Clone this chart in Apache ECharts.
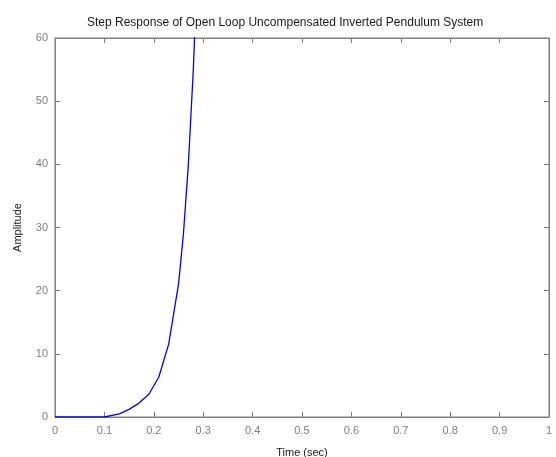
<!DOCTYPE html>
<html>
<head>
<meta charset="utf-8">
<script src="https://cdn.jsdelivr.net/npm/echarts@6/dist/echarts.min.js"></script>
<style>html,body{margin:0;padding:0;background:#fff}#c{width:556px;height:457px}</style>
</head>
<body>
<div id="c"></div>
<script>
const titleText = 'Step Response of Open Loop Uncompensated Inverted Pendulum System';
const xName = 'Time (sec)';
const yName = 'Amplitude';
const timeSec = [0, 0.1, 0.101, 0.13, 0.15, 0.17, 0.19, 0.21, 0.23, 0.25, 0.26, 0.27, 0.28, 0.29];
const amplitude = [0, 0, 0.3, 0.5, 1.2, 2.2, 3.6, 6.3, 11.5, 21, 29, 40, 55, 75];
const xTicks = [0, 0.1, 0.2, 0.3, 0.4, 0.5, 0.6, 0.7, 0.8, 0.9, 1];
const yTicks = [0, 10, 20, 30, 40, 50, 60];

const data = timeSec.map((t, i) => [t, amplitude[i]]);
const font = 'Liberation Sans, Arial, sans-serif';
const axisCol = '#7f7f7f';
const chart = echarts.init(document.getElementById('c'), null, {renderer: 'canvas'});
const common = {
  axisLine: {show: true, onZero: false, lineStyle: {color: axisCol, width: 1}},
  axisTick: {show: true, inside: true, length: 5, lineStyle: {color: axisCol}},
  splitLine: {show: false}
};
chart.setOption({
  animation: false,
  title: {text: titleText, left: 82, top: 12, textStyle: {fontFamily: font, fontSize: 12, fontWeight: 'normal', color: '#1a1a1a'}},
  grid: {left: 55, right: 7, top: 38, bottom: 40, show: true, borderColor: axisCol, borderWidth: 1, outerBoundsMode: 'none', containLabel: false},
  xAxis: [
    Object.assign({type: 'value', min: xTicks[0], max: xTicks[xTicks.length-1], interval: 0.1, position: 'bottom',
      name: xName, nameLocation: 'middle', nameGap: 30,
      nameTextStyle: {fontFamily: font, fontSize: 11, color: '#1a1a1a'},
      axisLabel: {fontFamily: font, fontSize: 11, color: axisCol, margin: 8, formatter: v => String(Math.round(v*10)/10)}}, common),
    Object.assign({type: 'value', min: 0, max: 1, interval: 0.1, position: 'top', axisLabel: {show: false}}, common)
  ],
  yAxis: [
    Object.assign({type: 'value', min: yTicks[0], max: yTicks[yTicks.length-1], interval: 10, position: 'left',
      name: yName, nameLocation: 'middle', nameGap: 32,
      nameTextStyle: {fontFamily: font, fontSize: 11, color: '#1a1a1a'},
      axisLabel: {fontFamily: font, fontSize: 11, color: axisCol, margin: 7}}, common),
    Object.assign({type: 'value', min: 0, max: 60, interval: 10, position: 'right', axisLabel: {show: false}}, common)
  ],
  series: [{
    type: 'line', data: data, xAxisIndex: 0, yAxisIndex: 0, showSymbol: false, symbol: 'none',
    clip: true, lineStyle: {color: '#0000ff', width: 1.3}
  }]
});
</script>
</body>
</html>
